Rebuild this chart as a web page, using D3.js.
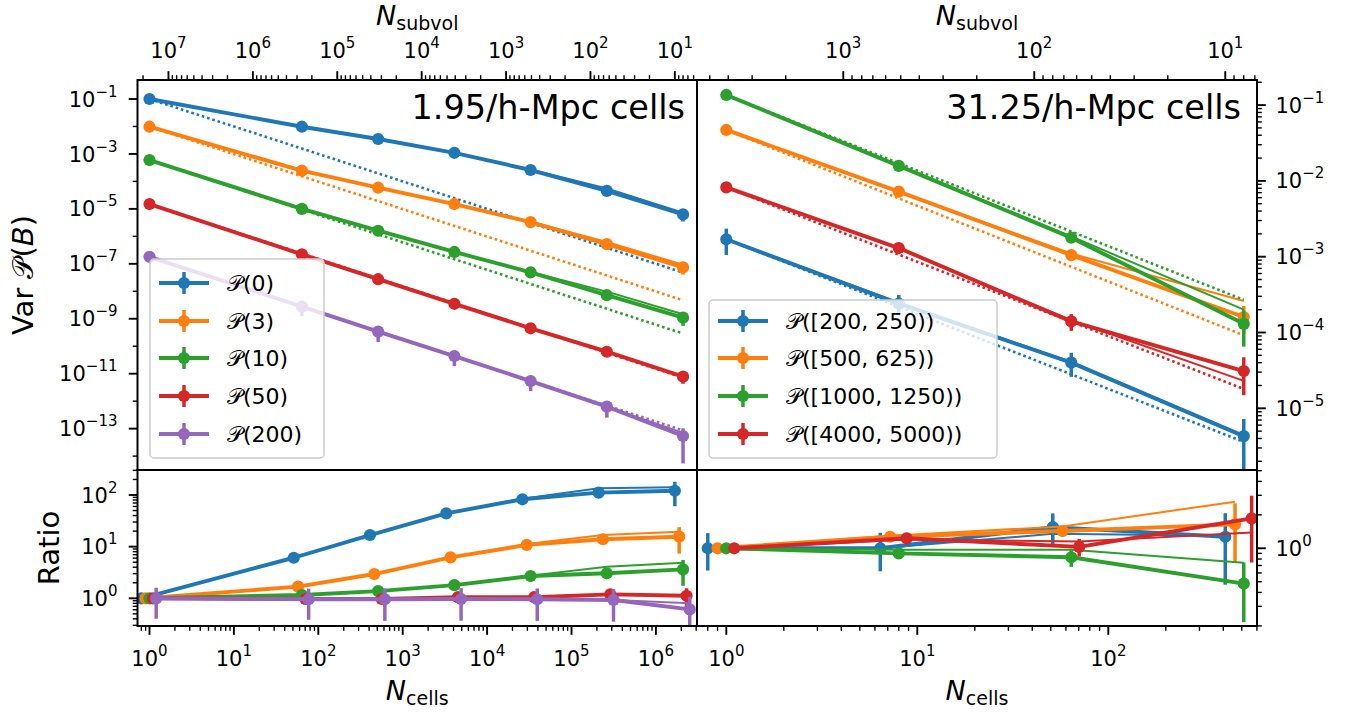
<!DOCTYPE html>
<html><head><meta charset="utf-8">
<script src="https://cdn.jsdelivr.net/npm/d3@7"></script>
<style>body{margin:0;background:#fff;} svg{display:block;font-family:"DejaVu Sans",sans-serif;}</style>
</head><body><svg id="c" width="1359" height="715"></svg>
<script>
// ---------------- DATA ----------------
const colors = ["#1f77b4", "#ff7f0e", "#2ca02c", "#d62728", "#9467bd"];
// 1.95/h-Mpc cells (left)
const fineCells = [1, 64, 512, 4096, 32768, 262144, 2097152];
const fineNTotal = 16777216;
const fineLabels = ["(0)", "(3)", "(10)", "(50)", "(200)"];
const fineVarP0   = [1.0e-1, 9.8e-3, 3.5e-3, 1.1e-3, 2.6e-4, 4.5e-5, 6.3e-6];
const fineVarP3   = [9.8e-3, 2.45e-4, 5.9e-5, 1.5e-5, 3.3e-6, 5.2e-7, 7.4e-8];
const fineVarP10  = [6.0e-4, 1.0e-5, 1.6e-6, 2.7e-7, 4.9e-8, 7.2e-9, 1.1e-9];
const fineVarP50  = [1.5e-5, 2.2e-7, 2.75e-8, 3.5e-9, 4.5e-10, 6.3e-11, 7.8e-12];
const fineVarP200 = [1.8e-7, 2.75e-9, 3.4e-10, 4.4e-11, 5.4e-12, 6.3e-13, 5.4e-14];
const fineThinP0   = [1.0e-1, 9.8e-3, 3.5e-3, 1.1e-3, 2.7e-4, 5.5e-5, 7.3e-6];
const fineThinP3   = [9.8e-3, 2.45e-4, 5.9e-5, 1.5e-5, 3.4e-6, 6.3e-7, 9.2e-8];
const fineThinP10  = [6.0e-4, 1.0e-5, 1.6e-6, 2.7e-7, 5.0e-8, 9.7e-9, 1.45e-9];
const fineThinP50  = [1.5e-5, 2.2e-7, 2.75e-8, 3.5e-9, 4.5e-10, 6.2e-11, 8.0e-12];
const fineThinP200 = [1.8e-7, 2.75e-9, 3.4e-10, 4.4e-11, 5.4e-12, 6.3e-13, 7.0e-14];
const fineErrP0   = [0.01, 0.03, 0.03, 0.05, 0.08, 0.15, 0.45];
const fineErrP3   = [0.01, 0.03, 0.03, 0.05, 0.08, 0.15, 0.45];
const fineErrP10  = [0.01, 0.03, 0.05, 0.08, 0.10, 0.15, 0.50];
const fineErrP50  = [0.02, 0.05, 0.08, 0.10, 0.15, 0.20, 0.45];
const fineErrP200 = [0.10, 0.55, 0.58, 0.57, 0.57, 0.60, 0.90];
const fineDotEnd  = [4.8e-8, 4.7e-9, 2.9e-10, 7.2e-12, 8.6e-14];  // 1/N reference at the last N
const fineRatioP0   = [1, 6.1, 16.8, 44, 82.6, 111, 121];
const fineRatioP3   = [1, 1.68, 2.95, 6.2, 10.8, 13.9, 15.6];
const fineRatioP10  = [1, 1.16, 1.38, 1.8, 2.7, 3.05, 3.64];
const fineRatioP50  = [1, 0.97, 0.97, 1.05, 1.05, 1.19, 1.12];
const fineRatioP200 = [1, 0.96, 0.96, 0.97, 0.96, 0.93, 0.61];
const fineRThinP0   = [1, 6.1, 16.8, 44, 85, 135, 141];
const fineRThinP3   = [1, 1.68, 2.95, 6.2, 11.2, 16.8, 19.5];
const fineRThinP10  = [1, 1.16, 1.38, 1.8, 2.75, 4.1, 4.9];
const fineRThinP50  = [1, 0.97, 0.97, 1.05, 1.05, 1.17, 1.15];
const fineRThinP200 = [1, 0.96, 0.96, 0.97, 0.96, 0.93, 0.8];
const fineRErrP0   = [0.02, 0.03, 0.04, 0.05, 0.08, 0.12, 0.50];
const fineRErrP3   = [0.02, 0.03, 0.04, 0.05, 0.08, 0.12, 0.53];
const fineRErrP10  = [0.02, 0.05, 0.06, 0.08, 0.10, 0.15, 0.52];
const fineRErrP50  = [0.05, 0.10, 0.10, 0.10, 0.15, 0.20, 0.40];
const fineRErrP200 = [0.60, 0.60, 0.62, 0.62, 0.62, 0.62, 0.75];
const fineShift = [0.8, 0.9, 1.0, 1.1, 1.2];

// 31.25/h-Mpc cells (right)
const coarseCells = [1, 8, 64, 512];
const coarseNTotal = 4096;
const coarseLabels = ["([200, 250))", "([500, 625))", "([1000, 1250))", "([4000, 5000))"];
const coarseVar200  = [1.7e-3, 2.4e-4, 4.0e-5, 4.3e-6];
const coarseVar500  = [4.7e-2, 7.2e-3, 1.05e-3, 1.6e-4];
const coarseVar1000 = [1.36e-1, 1.58e-2, 1.78e-3, 1.3e-4];
const coarseVar4000 = [8.2e-3, 1.3e-3, 1.4e-4, 3.1e-5];
const coarseThin200  = [1.7e-3, 2.5e-4, 4.1e-5, 4.4e-6];
const coarseThin500  = [4.7e-2, 7.2e-3, 1.1e-3, 2.6e-4];
const coarseThin1000 = [1.36e-1, 1.6e-2, 1.85e-3, 2.0e-4];
const coarseThin4000 = [8.2e-3, 1.28e-3, 1.45e-4, 2.3e-5];
const coarseErr200  = [0.38, 0.30, 0.35, 0.68];
const coarseErr500  = [0.03, 0.05, 0.08, 0.40];
const coarseErr1000 = [0.02, 0.04, 0.10, 0.50];
const coarseErr4000 = [0.03, 0.08, 0.25, 0.52];
const coarseDotEnd  = [3.6e-6, 9.2e-5, 2.7e-4, 1.8e-5];
const coarseRatio200  = [1, 1.0, 1.55, 1.27];
const coarseRatio500  = [1, 1.27, 1.43, 1.64];
const coarseRatio1000 = [1, 0.90, 0.83, 0.48];
const coarseRatio4000 = [1, 1.23, 1.03, 1.86];
const coarseRThin200  = [1, 1.0, 1.35, 1.3];
const coarseRThin500  = [1, 1.3, 1.57, 2.63];
const coarseRThin1000 = [1, 0.97, 0.97, 0.74];
const coarseRThin4000 = [1, 1.2, 1.15, 1.39];
const coarseRErr200  = [0.37, 0.38, 0.33, 0.63];
const coarseRErr500  = [0.03, 0.08, 0.10, 0.55];
const coarseRErr1000 = [0.02, 0.05, 0.18, 0.55];
const coarseRErr4000 = [0.10, 0.12, 0.18, 0.60];
const coarseShift = [0.8, 0.9, 1.0, 1.1];

// ---------------- LAYOUT ----------------
const X0 = 137.5, XM = 697, X1 = 1257, Y0 = 80, YM = 470, Y1 = 626;
const P = v => Math.pow(10, v);
const xL = d3.scaleLog().domain([P(-0.1422), P(6.487)]).range([X0, XM]);
const xR = d3.scaleLog().domain([P(-0.1534), P(2.7785)]).range([XM, X1]);
const yTL = d3.scaleLog().domain([P(-14.506), P(-0.3083)]).range([YM, Y0]);
const yTR = d3.scaleLog().domain([P(-5.814), P(-0.669)]).range([YM, Y0]);
const yRL = d3.scaleLog().domain([P(-0.536), P(2.484)]).range([Y1, YM]);
const yRR = d3.scaleLog().domain([P(-0.70), P(0.705)]).range([Y1, YM]);
const topL = d3.scaleLog().domain([fineNTotal / xL.domain()[0], fineNTotal / xL.domain()[1]]).range([X0, XM]);
const topR = d3.scaleLog().domain([coarseNTotal / xR.domain()[0], coarseNTotal / xR.domain()[1]]).range([XM, X1]);

const svg = d3.select("#c");
const defs = svg.append("defs");
function clip(id, x, y, w, h) {
  defs.append("clipPath").attr("id", id).append("rect").attr("x", x).attr("y", y).attr("width", w).attr("height", h);
  return svg.append("g").attr("clip-path", `url(#${id})`);
}
const gTL = clip("cTL", X0, Y0, XM - X0, YM - Y0);
const gTR = clip("cTR", XM, Y0, X1 - XM, YM - Y0);
const gRL = clip("cRL", X0, YM, XM - X0, Y1 - YM);
const gRR = clip("cRR", XM, YM, X1 - XM, Y1 - YM);

const THICK = 3.9, THIN = 2.0, ERRW = 3.5, MR = 6.1;

function drawSeries(g, x, y, xs, vals, thin, err, color, dot) {
  const line = d3.line().x(d => x(d[0])).y(d => y(d[1]));
  if (dot) {
    g.append("path").attr("d", line(dot)).attr("fill", "none").attr("stroke", color)
      .attr("stroke-width", 2.6).attr("stroke-dasharray", "2.6,2.9");
  }
  if (thin) {
    g.append("path").attr("d", line(xs.map((v, i) => [v, thin[i]]))).attr("fill", "none")
      .attr("stroke", color).attr("stroke-width", THIN).attr("stroke-linejoin", "round");
  }
  g.append("path").attr("d", line(xs.map((v, i) => [v, vals[i]]))).attr("fill", "none")
    .attr("stroke", color).attr("stroke-width", THICK).attr("stroke-linejoin", "round");
  const lo = y.domain()[0];
  xs.forEach((v, i) => {
    const e = err[i] * vals[i];
    const top = vals[i] + e;
    const bot = vals[i] - e > 0 ? vals[i] - e : lo / 100;
    g.append("line").attr("x1", x(v)).attr("x2", x(v)).attr("y1", y(top)).attr("y2", y(bot))
      .attr("stroke", color).attr("stroke-width", ERRW);
  });
  xs.forEach((v, i) => {
    g.append("circle").attr("cx", x(v)).attr("cy", y(vals[i])).attr("r", MR).attr("fill", color);
  });
}

// top-left
const fineVar = [fineVarP0, fineVarP3, fineVarP10, fineVarP50, fineVarP200];
const fineThin = [fineThinP0, fineThinP3, fineThinP10, fineThinP50, fineThinP200];
const fineErr = [fineErrP0, fineErrP3, fineErrP10, fineErrP50, fineErrP200];
fineVar.forEach((vals, s) => {
  const last = fineCells[fineCells.length - 1];
  drawSeries(gTL, xL, yTL, fineCells, vals, fineThin[s], fineErr[s], colors[s],
    [[fineCells[0], vals[0]], [last, fineDotEnd[s]]]);
});
// ratio-left
const fineRatio = [fineRatioP0, fineRatioP3, fineRatioP10, fineRatioP50, fineRatioP200];
const fineRThin = [fineRThinP0, fineRThinP3, fineRThinP10, fineRThinP50, fineRThinP200];
const fineRErr = [fineRErrP0, fineRErrP3, fineRErrP10, fineRErrP50, fineRErrP200];
fineRatio.forEach((vals, s) => {
  drawSeries(gRL, xL, yRL, fineCells.map(c => c * fineShift[s]), vals, fineRThin[s], fineRErr[s], colors[s], null);
});
// top-right
const coarseVar = [coarseVar200, coarseVar500, coarseVar1000, coarseVar4000];
const coarseThin = [coarseThin200, coarseThin500, coarseThin1000, coarseThin4000];
const coarseErr = [coarseErr200, coarseErr500, coarseErr1000, coarseErr4000];
coarseVar.forEach((vals, s) => {
  const last = coarseCells[coarseCells.length - 1];
  drawSeries(gTR, xR, yTR, coarseCells, vals, coarseThin[s], coarseErr[s], colors[s],
    [[coarseCells[0], vals[0]], [last, coarseDotEnd[s]]]);
});
// ratio-right
const coarseRatio = [coarseRatio200, coarseRatio500, coarseRatio1000, coarseRatio4000];
const coarseRThin = [coarseRThin200, coarseRThin500, coarseRThin1000, coarseRThin4000];
const coarseRErr = [coarseRErr200, coarseRErr500, coarseRErr1000, coarseRErr4000];
coarseRatio.forEach((vals, s) => {
  drawSeries(gRR, xR, yRR, coarseCells.map(c => c * coarseShift[s]), vals, coarseRThin[s], coarseRErr[s], colors[s], null);
});

// ---------------- AXES ----------------
const axG = svg.append("g");
function powLabel(g, k, x, y, anchor) {
  const t = g.append("text").attr("x", x).attr("y", y).attr("text-anchor", anchor)
    .attr("font-size", 21).attr("fill", "#000");
  t.append("tspan").text("10");
  t.append("tspan").attr("dy", -10).attr("font-size", 15).text(k < 0 ? "\u2212" + (-k) : String(k));
}
function drawAxis(scale, side, pos, isMajor, isLabel, subs) {
  const d = scale.domain();
  const lo = Math.min(d[0], d[1]), hi = Math.max(d[0], d[1]);
  const k0 = Math.floor(Math.log10(lo)), k1 = Math.ceil(Math.log10(hi));
  const inD = v => v >= lo * 0.9999 && v <= hi * 1.0001;
  const ticks = [];
  for (let k = k0; k <= k1; k++) {
    const v = Math.pow(10, k);
    if (inD(v)) ticks.push({ v, k, major: isMajor(k), label: isLabel(k) });
    if (subs) for (let m = 2; m <= 9; m++) if (inD(m * v)) ticks.push({ v: m * v, major: false, label: false });
  }
  ticks.forEach(t => {
    const p = scale(t.v), len = t.major ? 8.8 : 4.8;
    let a;
    if (side === "left") a = [pos, p, pos - len, p];
    else if (side === "right") a = [pos, p, pos + len, p];
    else if (side === "top") a = [p, pos, p, pos - len];
    else a = [p, pos, p, pos + len];
    axG.append("line").attr("x1", a[0]).attr("y1", a[1]).attr("x2", a[2]).attr("y2", a[3])
      .attr("stroke", "#000").attr("stroke-width", t.major ? 1.9 : 1.4);
    if (t.label) {
      if (side === "left") powLabel(axG, t.k, pos - 20, p + 7.6, "end");
      else if (side === "right") powLabel(axG, t.k, pos + 18.5, p + 7.6, "start");
      else if (side === "top") powLabel(axG, t.k, p, 58, "middle");
      else powLabel(axG, t.k, p, 666, "middle");
    }
  });
}
const all = () => true;
drawAxis(yTL, "left", X0, k => Math.abs(k) % 2 === 1, k => Math.abs(k) % 2 === 1, false);
drawAxis(yRL, "left", X0, all, all, true);
drawAxis(yTR, "right", X1, all, all, true);
drawAxis(yRR, "right", X1, all, all, true);
drawAxis(xL, "bottom", Y1, all, all, true);
drawAxis(xR, "bottom", Y1, all, all, true);
drawAxis(topL, "top", Y0, all, all, true);
drawAxis(topR, "top", Y0, all, all, true);

// spines
[[X0, Y0, XM, YM], [XM, Y0, X1, YM], [X0, YM, XM, Y1], [XM, YM, X1, Y1]].forEach(r => {
  axG.append("rect").attr("x", r[0]).attr("y", r[1]).attr("width", r[2] - r[0]).attr("height", r[3] - r[1])
    .attr("fill", "none").attr("stroke", "#000").attr("stroke-width", 2);
});

// axis labels
function nLabel(x, y, sub) {
  const t = axG.append("text").attr("x", x).attr("y", y).attr("text-anchor", "middle").attr("font-size", 27);
  t.append("tspan").attr("font-style", "italic").text("N");
  t.append("tspan").attr("dy", 4.5).attr("font-size", 19).text(sub);
}
nLabel((X0 + XM) / 2, 25, "subvol");
nLabel((XM + X1) / 2, 25, "subvol");
nLabel((X0 + XM) / 2, 700, "cells");
nLabel((XM + X1) / 2, 700, "cells");

const calP = "\uD835\uDCAB";
{
  const t = axG.append("text").attr("transform", `translate(33,${(Y0 + YM) / 2}) rotate(-90)`)
    .attr("text-anchor", "middle").attr("font-size", 29);
  t.append("tspan").text("Var ");
  t.append("tspan").text(calP);
  t.append("tspan").text("(");
  t.append("tspan").attr("font-style", "italic").text("B");
  t.append("tspan").text(")");
}
axG.append("text").attr("transform", `translate(59,${(YM + Y1) / 2}) rotate(-90)`)
  .attr("text-anchor", "middle").attr("font-size", 29).text("Ratio");

// titles
axG.append("text").attr("x", 685).attr("y", 118.5).attr("text-anchor", "end").attr("font-size", 33.5).text("1.95/h-Mpc cells");
axG.append("text").attr("x", 1241).attr("y", 118.5).attr("text-anchor", "end").attr("font-size", 33.5).text("31.25/h-Mpc cells");

// legends
function legend(x, y, w, h, labels, hx0, hx1, tx, rowY) {
  const g = svg.append("g");
  g.append("rect").attr("x", x).attr("y", y).attr("width", w).attr("height", h).attr("rx", 4)
    .attr("fill", "#fff").attr("fill-opacity", 0.8).attr("stroke", "#cccccc").attr("stroke-width", 1.5);
  labels.forEach((lab, i) => {
    const yy = rowY[i], c = colors[i], cx = (hx0 + hx1) / 2;
    g.append("line").attr("x1", hx0).attr("x2", hx1).attr("y1", yy).attr("y2", yy).attr("stroke", c).attr("stroke-width", THICK);
    g.append("line").attr("x1", cx).attr("x2", cx).attr("y1", yy - 11).attr("y2", yy + 11).attr("stroke", c).attr("stroke-width", ERRW);
    g.append("circle").attr("cx", cx).attr("cy", yy).attr("r", MR).attr("fill", c);
    const t = g.append("text").attr("x", tx).attr("y", yy + 8).attr("font-size", 22);
    t.append("tspan").text(calP);
    t.append("tspan").text(lab);
  });
}
legend(150, 259, 174, 199, fineLabels, 159, 209, 227, [283, 321, 358, 396, 434]);
legend(709, 300, 288, 158, coarseLabels, 718, 768, 786, [321, 358, 396, 434]);
</script></body></html>
